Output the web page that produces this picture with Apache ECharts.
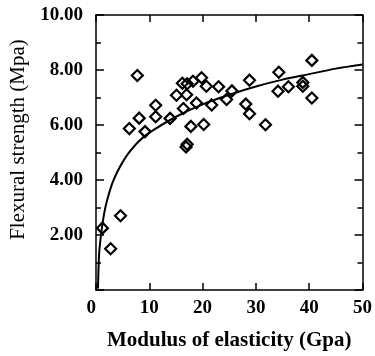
<!DOCTYPE html>
<html>
<head>
<meta charset="utf-8">
<script src="https://cdn.jsdelivr.net/npm/echarts@6/dist/echarts.min.js"></script>
<style>html,body{margin:0;padding:0;background:#fff}#c{width:375px;height:356px}</style>
</head>
<body>
<div id="c"></div>
<script>
// Scatter measurements
var modulusX = [1.2, 2.75, 4.6, 6.25, 7.75, 8.1, 9.2, 11.2, 11.2, 13.9, 15.1, 16.2, 17.1, 16.4, 17.0, 16.9, 17.1, 17.8, 18.2, 18.85, 19.8, 20.2, 20.7, 21.7, 23.0, 24.5, 25.5, 28.1, 28.8, 28.8, 31.8, 34.3, 34.15, 36.1, 38.8, 38.8, 40.5, 40.5];
var strengthY = [2.25, 1.5, 2.7, 5.87, 7.8, 6.25, 5.76, 6.72, 6.3, 6.24, 7.08, 7.52, 7.5, 6.6, 7.1, 5.2, 5.3, 5.95, 7.59, 6.8, 7.72, 6.02, 7.41, 6.73, 7.39, 6.93, 7.24, 6.76, 7.63, 6.41, 6.01, 7.92, 7.23, 7.39, 7.55, 7.41, 8.35, 6.98];
// Trend curve points
var curveX = [0.37, 0.6, 1.0, 1.5, 2.0, 3.0, 4.0, 5.0, 6.0, 8.0, 10, 15, 20, 25, 30, 35, 40, 45, 50];
var curveY = [0.05, 1.35, 2.1, 2.75, 3.2, 3.85, 4.3, 4.65, 4.95, 5.4, 5.72, 6.3, 6.75, 7.1, 7.4, 7.65, 7.85, 8.05, 8.2];
// Axis settings
var xMin = 0, xMax = 50, xStep = 10;
var yMin = 0, yMax = 10, yStep = 2;
var xTitle = 'Modulus of elasticity (Gpa)';
var yTitle = 'Flexural strength (Mpa)';

var serif = 'Liberation Serif';
var scatterData = modulusX.map(function (x, i) { return [x, strengthY[i]]; });
var curveData = curveX.map(function (x, i) { return [x, curveY[i]]; });

var lineSt = { color: '#000', width: 1.5 };
var chart = echarts.init(document.getElementById('c'), null, { renderer: 'canvas' });
chart.setOption({
  animation: false,
  grid: { left: 96, right: 12, top: 15, bottom: 64 },
  xAxis: [{
    type: 'value', min: xMin, max: xMax, interval: xStep, position: 'bottom',
    axisLine: { show: true, onZero: false, lineStyle: lineSt },
    axisTick: { show: true, inside: true, length: 7, lineStyle: lineSt },
    splitLine: { show: false },
    axisLabel: { color: '#000', fontFamily: serif, fontWeight: 'bold', fontSize: 19, margin: 9, alignMinLabel: 'right',
      showMinLabel: true, showMaxLabel: true },
    name: xTitle, nameLocation: 'middle', nameGap: 40,
    nameTextStyle: { color: '#000', fontFamily: serif, fontWeight: 'bold', fontSize: 21 }
  }, {
    type: 'value', min: xMin, max: xMax, interval: xStep, position: 'top',
    axisLine: { show: true, onZero: false, lineStyle: lineSt },
    axisTick: { show: true, inside: true, length: 7, lineStyle: lineSt },
    splitLine: { show: false }, axisLabel: { show: false }
  }],
  yAxis: [{
    type: 'value', min: yMin, max: yMax, interval: yStep, position: 'left',
    axisLine: { show: true, onZero: false, lineStyle: lineSt },
    axisTick: { show: true, inside: true, length: 8, lineStyle: lineSt },
    minorTick: { show: true, splitNumber: 2, length: 5, lineStyle: lineSt },
    splitLine: { show: false },
    axisLabel: { color: '#000', fontFamily: serif, fontWeight: 'bold', fontSize: 19, margin: 13,
      showMinLabel: false,
      formatter: function (v) { return v.toFixed(2); } },
    name: yTitle, nameLocation: 'middle', nameGap: 60,
    nameTextStyle: { color: '#000', fontFamily: serif, fontSize: 21, padding: [0, 0, 0, 26] }
  }, {
    type: 'value', min: yMin, max: yMax, interval: yStep, position: 'right',
    axisLine: { show: true, onZero: false, lineStyle: lineSt },
    axisTick: { show: true, inside: true, length: 8, lineStyle: lineSt },
    minorTick: { show: true, splitNumber: 2, length: 5, lineStyle: lineSt },
    splitLine: { show: false }, axisLabel: { show: false }
  }],
  series: [{
    type: 'line', data: curveData, smooth: 0.3, showSymbol: false, symbol: 'none',
    lineStyle: { color: '#000', width: 2 }, z: 2
  }, {
    type: 'scatter', data: scatterData, symbol: 'diamond', symbolSize: 11,
    itemStyle: { color: 'rgba(255,255,255,0)', borderColor: '#000', borderWidth: 2.2, opacity: 1 }, z: 3
  }]
});
</script>
</body>
</html>
